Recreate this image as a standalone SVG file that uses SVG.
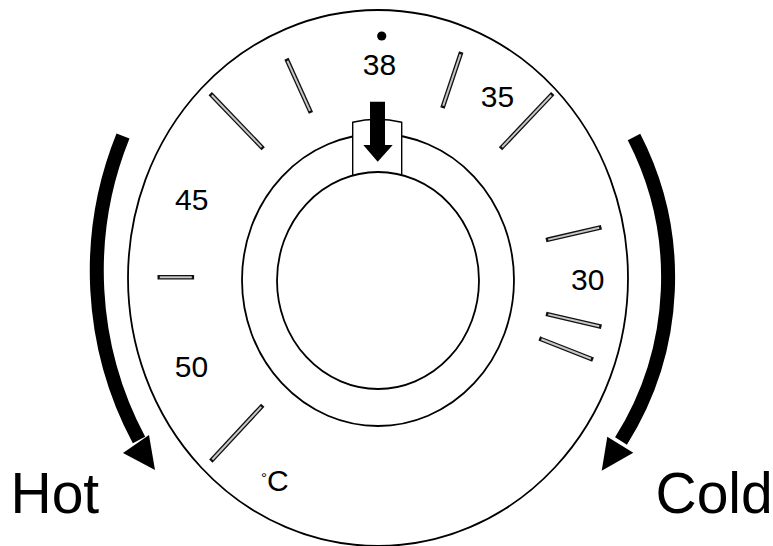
<svg xmlns="http://www.w3.org/2000/svg" width="773" height="546" viewBox="0 0 773 546">
<style>
.ln{fill:none;stroke:#000;stroke-width:1.8}
.rg{fill:#fff;stroke:#000;stroke-width:1.8}
.tko{stroke:#111;stroke-width:4.6;stroke-linecap:square}
.tki{stroke:#c8c8c8;stroke-width:2;stroke-linecap:butt}
.num{font-family:"Liberation Sans",Arial,sans-serif;font-size:30px;fill:#000;text-anchor:middle}
.big{font-family:"Liberation Sans",Arial,sans-serif;font-size:57px;fill:#000}
.shaft{fill:none;stroke:#000;stroke-width:14;stroke-linecap:butt}
</style>
<rect width="773" height="546" fill="#fff"/>
<g id="dial">
<ellipse cx="378" cy="278" rx="250" ry="268" class="ln"/>
<ellipse cx="378" cy="280" rx="136" ry="146" class="rg"/>
</g>
<g id="knob-tab">
<path d="M352.7,177 L352.7,122.3 Q377,116.3 401.7,122.3 L401.7,177" fill="#fff" stroke="#000" stroke-width="1.4"/>
</g>
<g id="knob">
<ellipse cx="378" cy="280.5" rx="101" ry="108.5" class="rg"/>
</g>
<g id="pointer">
<polygon points="370,101.7 385,101.7 385,145 392.7,145 377.7,161.7 363.3,145 370,145" fill="#000"/>
</g>
<g id="ticks">
<line x1="211.8" y1="95.2" x2="261.6" y2="147.1" class="tko"/><line x1="211.8" y1="95.2" x2="261.6" y2="147.1" class="tki"/>
<line x1="287.4" y1="60.8" x2="310" y2="110.8" class="tko"/><line x1="287.4" y1="60.8" x2="310" y2="110.8" class="tki"/>
<line x1="460.5" y1="54.2" x2="443.2" y2="105.8" class="tko"/><line x1="460.5" y1="54.2" x2="443.2" y2="105.8" class="tki"/>
<line x1="551.2" y1="95.2" x2="502.1" y2="147.1" class="tko"/><line x1="551.2" y1="95.2" x2="502.1" y2="147.1" class="tki"/>
<line x1="159.8" y1="277.3" x2="191.8" y2="277.3" class="tko"/><line x1="159.8" y1="277.3" x2="191.8" y2="277.3" class="tki"/>
<line x1="548.2" y1="239.6" x2="599.2" y2="227.7" class="tko"/><line x1="548.2" y1="239.6" x2="599.2" y2="227.7" class="tki"/>
<line x1="548.2" y1="314.4" x2="599.2" y2="326.3" class="tko"/><line x1="548.2" y1="314.4" x2="599.2" y2="326.3" class="tki"/>
<line x1="541.4" y1="339.3" x2="590.9" y2="358.7" class="tko"/><line x1="541.4" y1="339.3" x2="590.9" y2="358.7" class="tki"/>
<line x1="261.2" y1="406.9" x2="212.4" y2="459.5" class="tko"/><line x1="261.2" y1="406.9" x2="212.4" y2="459.5" class="tki"/>
</g>
<g id="labels">
<circle cx="381.7" cy="36" r="4.6" fill="#000"/>
<text x="379.5" y="75" class="num">38</text>
<text x="497.5" y="107" class="num">35</text>
<text x="191.7" y="210" class="num">45</text>
<text x="587.7" y="290" class="num">30</text>
<text x="191.5" y="377" class="num">50</text>
<text x="261" y="490.7" font-family="&quot;Liberation Sans&quot;,Arial,sans-serif" font-size="30" fill="#000"><tspan font-size="15" dy="-8">°</tspan><tspan dy="8">C</tspan></text>
</g>
<g id="hot">
<path d="M123,136 A360,360 0 0 0 139,440" class="shaft"/>
<polygon points="123,453 149,435 155,470" fill="#000"/>
<text x="10.5" y="513" class="big">Hot</text>
</g>
<g id="cold">
<path d="M634,137 A307,307 0 0 1 621,441" class="shaft"/>
<polygon points="607.3,436.7 633.3,452.7 601.7,470.7" fill="#000"/>
<text x="655.5" y="513" class="big">Cold</text>
</g>
</svg>
